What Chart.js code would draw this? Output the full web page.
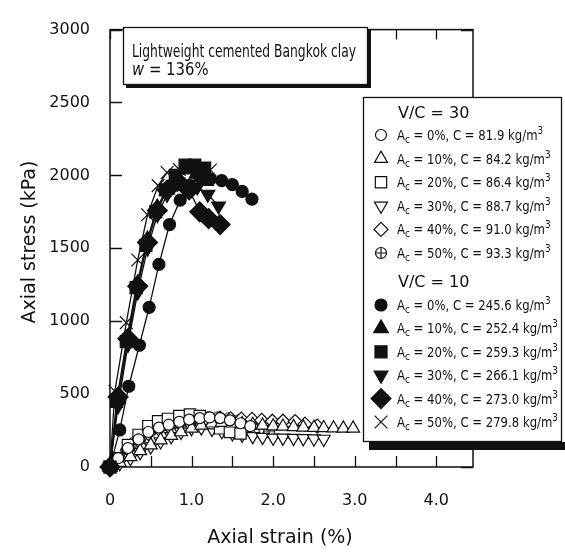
<!DOCTYPE html>
<html>
<head>
<meta charset="utf-8">
<script src="https://cdn.jsdelivr.net/npm/chart.js@4/dist/chart.umd.min.js"></script>
<style>
  body { margin: 0; background: #fff; }
  canvas { display: block; }
</style>
</head>
<body>
<canvas id="stressStrainChart" width="565" height="552"></canvas>
<script>
// V/C = 30 (open markers)
const vc30Ac0Strain = [0, 0.1, 0.22, 0.35, 0.47, 0.6, 0.72, 0.85, 0.97, 1.1, 1.22, 1.35, 1.47, 1.6, 1.72];
const vc30Ac0Stress = [0, 60, 130, 190, 240, 270, 290, 310, 325, 335, 340, 335, 320, 300, 280];
const vc30Ac10Strain = [0, 0.12, 0.25, 0.37, 0.5, 0.62, 0.75, 0.87, 1.0, 1.12, 1.25, 1.37, 1.5, 1.62, 1.75, 1.87, 2.0, 2.12, 2.25, 2.37, 2.5, 2.62, 2.74, 2.86, 2.98];
const vc30Ac10Stress = [0, 30, 70, 110, 150, 185, 215, 240, 265, 285, 300, 305, 300, 295, 290, 285, 280, 278, 275, 272, 270, 268, 266, 265, 265];
const vc30Ac20Strain = [0, 0.1, 0.22, 0.35, 0.47, 0.59, 0.71, 0.85, 0.98, 1.1, 1.22, 1.35, 1.47, 1.6];
const vc30Ac20Stress = [0, 60, 150, 220, 280, 314, 330, 350, 360, 350, 300, 265, 240, 230];
const vc30Ac30Strain = [0, 0.12, 0.25, 0.37, 0.5, 0.62, 0.75, 0.87, 1.0, 1.12, 1.25, 1.37, 1.5, 1.62, 1.75, 1.87, 2.0, 2.12, 2.25, 2.37, 2.5, 2.62];
const vc30Ac30Stress = [0, 25, 60, 100, 140, 175, 210, 240, 265, 270, 260, 245, 230, 220, 210, 205, 200, 200, 198, 196, 194, 192];
const vc30Ac40Strain = [0, 0.1, 0.22, 0.35, 0.47, 0.6, 0.72, 0.85, 0.97, 1.1, 1.22, 1.35, 1.48, 1.61, 1.74, 1.86, 1.99, 2.12, 2.27, 2.39, 2.54];
const vc30Ac40Stress = [0, 50, 120, 180, 230, 260, 280, 300, 310, 320, 330, 335, 330, 328, 327, 320, 314, 314, 312, 294, 280];
const vc30Ac50Strain = [0, 0.08, 0.2, 0.3, 0.4, 0.5, 0.6, 0.7, 0.8, 0.9, 1.0, 1.1, 1.2, 1.32, 1.46, 1.58, 1.7, 1.83, 1.95];
const vc30Ac50Stress = [0, 40, 110, 170, 220, 250, 270, 290, 300, 310, 320, 327, 340, 340, 334, 320, 290, 260, 245];

// V/C = 10 (filled markers)
const vc10Ac0Strain = [0, 0.12, 0.23, 0.36, 0.48, 0.6, 0.73, 0.86, 0.98, 1.1, 1.23, 1.37, 1.5, 1.62, 1.74];
const vc10Ac0Stress = [0, 254, 554, 835, 1095, 1390, 1663, 1830, 1930, 1990, 1975, 1964, 1937, 1890, 1837];
const vc10Ac10Strain = [0, 0.1, 0.22, 0.34, 0.46, 0.58, 0.7, 0.82, 0.94, 1.06, 1.18];
const vc10Ac10Stress = [0, 470, 880, 1260, 1560, 1780, 1900, 1980, 2040, 2010, 1960];
const vc10Ac20Strain = [0, 0.08, 0.2, 0.32, 0.44, 0.56, 0.68, 0.8, 0.92, 1.04, 1.16];
const vc10Ac20Stress = [0, 450, 860, 1230, 1520, 1750, 1900, 2000, 2070, 2070, 2050];
const vc10Ac30Strain = [0, 0.1, 0.22, 0.34, 0.46, 0.58, 0.7, 0.82, 0.95, 1.07, 1.2, 1.33];
const vc10Ac30Stress = [0, 420, 840, 1200, 1500, 1730, 1870, 1950, 1940, 1920, 1870, 1790];
const vc10Ac40Strain = [0, 0.1, 0.22, 0.34, 0.46, 0.58, 0.7, 0.83, 0.97, 1.1, 1.21, 1.35];
const vc10Ac40Stress = [0, 480, 880, 1240, 1540, 1760, 1900, 1960, 1900, 1750, 1703, 1663];
const vc10Ac50Strain = [0, 0.06, 0.2, 0.34, 0.46, 0.59, 0.7, 0.85, 0.97, 1.1, 1.23];
const vc10Ac50Stress = [0, 520, 990, 1420, 1730, 1930, 2020, 2040, 2050, 2040, 2037];

const acLabels = ["0", "10", "20", "30", "40", "50"];
const vc30Cement = ["81.9", "84.2", "86.4", "88.7", "91.0", "93.3"];
const vc10Cement = ["245.6", "252.4", "259.3", "266.1", "273.0", "279.8"];

const xTickValues = [0, 0.5, 1.0, 1.5, 2.0, 2.5, 3.0, 3.5, 4.0];
const yTickValues = [0, 500, 1000, 1500, 2000, 2500, 3000];

const INK = "#111";
const FONT = "'DejaVu Sans', Verdana, sans-serif";

function makeCrossCircle(r) {
  const c = document.createElement("canvas");
  const s = Math.ceil(r * 2 + 3);
  c.width = s; c.height = s;
  const g = c.getContext("2d");
  const m = s / 2;
  g.fillStyle = "#fff"; g.strokeStyle = INK; g.lineWidth = 1.2;
  g.beginPath(); g.arc(m, m, r, 0, Math.PI * 2); g.fill(); g.stroke();
  g.beginPath();
  g.moveTo(m - r, m); g.lineTo(m + r, m);
  g.moveTo(m, m - r); g.lineTo(m, m + r);
  g.stroke();
  return c;
}
const crossCircle = makeCrossCircle(5.5);

// marker styles, same order as the legend
const openStyles = [
  { pointStyle: "circle", radius: 5.5, rotation: 0 },
  { pointStyle: "triangle", radius: 7.5, rotation: 0 },
  { pointStyle: "rect", radius: 8, rotation: 0 },
  { pointStyle: "triangle", radius: 7.5, rotation: 180 },
  { pointStyle: "rectRot", radius: 7, rotation: 0 },
  { pointStyle: crossCircle, radius: 6, rotation: 0 },
];
const filledStyles = [
  { pointStyle: "circle", radius: 6, rotation: 0 },
  { pointStyle: "triangle", radius: 8.5, rotation: 0 },
  { pointStyle: "rect", radius: 8.5, rotation: 0 },
  { pointStyle: "triangle", radius: 8, rotation: 180 },
  { pointStyle: "rectRot", radius: 10, rotation: 0 },
  { pointStyle: "crossRot", radius: 9, rotation: 0 },
];

const vc30Series = [
  [vc30Ac0Strain, vc30Ac0Stress], [vc30Ac10Strain, vc30Ac10Stress],
  [vc30Ac20Strain, vc30Ac20Stress], [vc30Ac30Strain, vc30Ac30Stress],
  [vc30Ac40Strain, vc30Ac40Stress], [vc30Ac50Strain, vc30Ac50Stress],
];
const vc10Series = [
  [vc10Ac0Strain, vc10Ac0Stress], [vc10Ac10Strain, vc10Ac10Stress],
  [vc10Ac20Strain, vc10Ac20Stress], [vc10Ac30Strain, vc10Ac30Stress],
  [vc10Ac40Strain, vc10Ac40Stress], [vc10Ac50Strain, vc10Ac50Stress],
];

function toPoints(xs, ys) {
  return xs.map((x, i) => ({ x: x, y: ys[i] }));
}

function buildDataset(series, style, filled, label) {
  return {
    label: label,
    data: toPoints(series[0], series[1]),
    showLine: true,
    borderColor: INK,
    borderWidth: 1.3,
    backgroundColor: filled ? INK : "#fff",
    pointStyle: style.pointStyle,
    pointRadius: style.radius,
    pointRotation: style.rotation,
    pointBorderWidth: 1.2,
    pointBorderColor: INK,
    pointBackgroundColor: filled ? INK : "#fff",
    clip: false,
  };
}

const datasets = [];
vc10Series.forEach((s, i) => datasets.push(buildDataset(s, filledStyles[i], true, "V/C=10 Ac=" + acLabels[i] + "%")));
vc30Series.forEach((s, i) => datasets.push(buildDataset(s, openStyles[i], false, "V/C=30 Ac=" + acLabels[i] + "%")));

function drawMarker(ctx, style, filled, x, y) {
  ctx.save();
  ctx.fillStyle = filled ? INK : "#fff";
  ctx.strokeStyle = INK;
  ctx.lineWidth = 1.2;
  ctx.beginPath();
  Chart.helpers.drawPoint(ctx, { pointStyle: style.pointStyle, radius: style.radius, rotation: style.rotation, borderWidth: 1.2 }, x, y);
  ctx.restore();
}

// draws text squeezed or stretched horizontally
function fitText(ctx, parts, x, y, scaleX) {
  ctx.save();
  ctx.translate(x, y);
  ctx.scale(scaleX, 1);
  let cx = 0;
  parts.forEach((p) => {
    ctx.font = p.font;
    ctx.fillText(p.text, cx, p.dy || 0);
    cx += ctx.measureText(p.text).width;
  });
  ctx.restore();
}
function partsWidth(ctx, parts) {
  let w = 0;
  parts.forEach((p) => { ctx.font = p.font; w += ctx.measureText(p.text).width; });
  return w;
}

function legendParts(ac, cement) {
  return [
    { text: "A", font: "14.5px " + FONT },
    { text: "c", font: "11px " + FONT, dy: 3 },
    { text: " = " + ac + "%, C = " + cement + " kg/m", font: "14.5px " + FONT },
    { text: "3", font: "11px " + FONT, dy: -6 },
  ];
}

const framePlugin = {
  id: "frame",
  beforeDatasetsDraw(chart) {
    const { ctx, chartArea: a, scales } = chart;
    ctx.save();
    ctx.strokeStyle = INK;
    ctx.lineWidth = 1.5;
    ctx.strokeRect(a.left, a.top, a.right - a.left, a.bottom - a.top);
    ctx.lineWidth = 1.3;
    ctx.beginPath();
    xTickValues.forEach((v) => {
      const px = Math.round(scales.x.getPixelForValue(v)) + 0.5;
      ctx.moveTo(px, a.bottom); ctx.lineTo(px, a.bottom - 11);
      ctx.moveTo(px, a.top); ctx.lineTo(px, a.top + 10);
    });
    yTickValues.forEach((v) => {
      const py = Math.round(scales.y.getPixelForValue(v)) + 0.5;
      ctx.moveTo(a.left, py); ctx.lineTo(a.left + 12, py);
      ctx.moveTo(a.right, py); ctx.lineTo(a.right - 12, py);
    });
    ctx.stroke();

    // axis titles
    ctx.fillStyle = INK;
    ctx.textBaseline = "alphabetic";
    ctx.font = "19px " + FONT;
    ctx.textAlign = "center";
    ctx.fillText("Axial strain (%)", 280, 543);
    ctx.save();
    ctx.translate(35, 242);
    ctx.rotate(-Math.PI / 2);
    ctx.fillText("Axial stress (kPa)", 0, 0);
    ctx.restore();
    ctx.restore();
  },
  afterDraw(chart) {
    const ctx = chart.ctx;
    ctx.save();
    ctx.textAlign = "left";
    ctx.textBaseline = "alphabetic";

    // title box
    ctx.fillStyle = INK;
    ctx.fillRect(126, 30, 245, 58);
    ctx.fillStyle = "#fff";
    ctx.fillRect(123, 27, 245, 58);
    ctx.strokeStyle = INK;
    ctx.lineWidth = 1.3;
    ctx.strokeRect(123.5, 27.5, 244, 57);
    ctx.fillStyle = INK;
    const line1 = [{ text: "Lightweight cemented Bangkok clay", font: "17.5px " + FONT }];
    fitText(ctx, line1, 132, 57, 224 / partsWidth(ctx, line1));
    const line2 = [
      { text: "w", font: "italic 17.5px " + FONT },
      { text: " = 136%", font: "17.5px " + FONT },
    ];
    fitText(ctx, line2, 132, 75, 0.85);

    // legend box, shadow only along the bottom
    ctx.fillStyle = INK;
    ctx.fillRect(369, 442, 196, 8);
    ctx.fillStyle = "#fff";
    ctx.fillRect(363, 97, 199, 345);
    ctx.strokeRect(363.5, 97.5, 198, 344);

    const widest = partsWidth(ctx, legendParts("10", "252.4"));
    const sx = 161 / widest;
    ctx.fillStyle = INK;
    ctx.font = "16px " + FONT;
    ctx.fillText("V/C = 30", 398, 118);
    for (let i = 0; i < 6; i++) {
      const y = 135 + i * 23.6;
      drawMarker(ctx, openStyles[i], false, 381, y);
      ctx.fillStyle = INK;
      fitText(ctx, legendParts(acLabels[i], vc30Cement[i]), 397, y + 5, sx);
    }
    ctx.font = "16px " + FONT;
    ctx.fillText("V/C = 10", 398, 287);
    for (let i = 0; i < 6; i++) {
      const y = 305 + i * 23.4;
      drawMarker(ctx, filledStyles[i], true, 381, y);
      ctx.fillStyle = INK;
      fitText(ctx, legendParts(acLabels[i], vc10Cement[i]), 397, y + 5, sx);
    }
    ctx.restore();
  },
};

new Chart(document.getElementById("stressStrainChart"), {
  type: "scatter",
  data: { datasets: datasets },
  options: {
    responsive: false,
    animation: false,
    devicePixelRatio: 1,
    layout: { padding: { top: 18, right: 92, left: 0, bottom: 0 } },
    plugins: { legend: { display: false }, tooltip: { enabled: false } },
    scales: {
      x: {
        type: "linear",
        min: 0,
        max: 4.45,
        grid: { display: false, drawTicks: false },
        border: { display: false },
        afterFit: (scale) => { scale.height = 85; },
        ticks: {
          stepSize: 1,
          includeBounds: false,
          padding: 24,
          color: INK,
          font: { family: FONT, size: 16 },
          callback: (v) => (v === 0 ? "0" : v.toFixed(1)),
        },
      },
      y: {
        type: "linear",
        min: 0,
        max: 3000,
        grid: { display: false, drawTicks: false },
        border: { display: false },
        afterFit: (scale) => { scale.width = 110; },
        ticks: {
          stepSize: 500,
          padding: 20,
          color: INK,
          font: { family: FONT, size: 16 },
          callback: (v) => String(v),
        },
      },
    },
  },
  plugins: [framePlugin],
});
</script>
</body>
</html>
